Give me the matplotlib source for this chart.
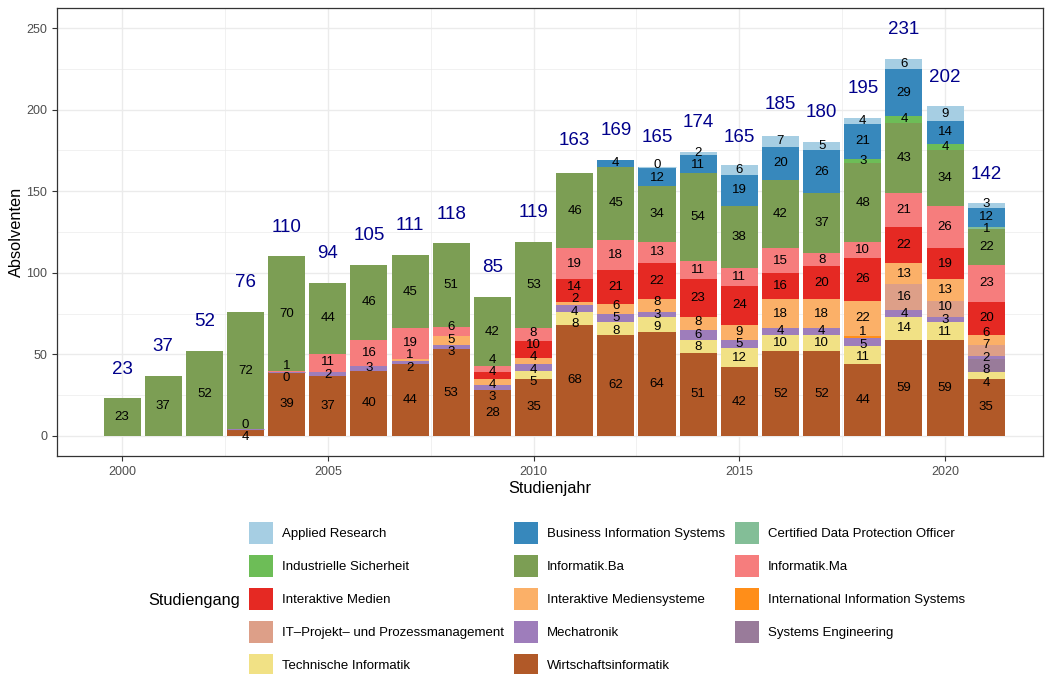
import numpy as np
import matplotlib
matplotlib.use("Agg")
import matplotlib.pyplot as plt
from matplotlib.colors import LinearSegmentedColormap
from matplotlib.patches import Patch

plt.rcParams['font.family'] = ['Liberation Sans', 'DejaVu Sans']

nan = np.nan
years = np.arange(2000, 2022)

studiengaenge = [
    "Applied Research", "Business Information Systems",
    "Certified Data Protection Officer", "Industrielle Sicherheit",
    "Informatik.Ba", "Informatik.Ma", "Interaktive Medien",
    "Interaktive Mediensysteme", "International Information Systems",
    "IT–Projekt– und Prozessmanagement", "Mechatronik",
    "Systems Engineering", "Technische Informatik", "Wirtschaftsinformatik",
]

# Absolventen je Studienjahr 2000..2021 (nan = keine Zeile im Datensatz)
applied_research = [nan] * 13 + [0, 2, 6, 7, 5, 4, 6, 9, 3]
business_is = [nan] * 12 + [4, 12, 11, 19, 20, 26, 21, 29, 14, 12]
cert_dpo = [nan] * 21 + [1]
industrielle_sicherheit = [nan] * 18 + [3, 4, 4, nan]
informatik_ba = [23, 37, 52, 72, 70, 44, 46, 45, 51, 42, 53,
                 46, 45, 34, 54, 38, 42, 37, 48, 43, 34, 22]
informatik_ma = [nan] * 4 + [1, 11, 16, 19, 6, 4, 8, 19, 18, 13, 11, 11,
                             15, 8, 10, 21, 26, 23]
interaktive_medien = [nan] * 9 + [4, 10, 14, 21, 22, 23, 24, 16, 20, 26,
                                  22, 19, 20]
interaktive_mediensysteme = [nan] * 7 + [1, 5, 4, 4, 2, 6, 8, 8, 9, 18, 18,
                                         22, 13, 13, 6]
international_is = [nan] * 18 + [1, nan, nan, nan]
it_projekt = [nan] * 19 + [16, 10, 7]
mechatronik = [nan] * 3 + [0, 0, 2, 3, 2, 3, 3, 4, 4, 5, 3, 6, 5, 4, 4,
                           5, 4, 3, 2]
systems_engineering = [nan] * 21 + [8]
technische_informatik = [nan] * 10 + [5, 8, 8, 9, 8, 12, 10, 10, 11, 14, 11, 4]
wirtschaftsinformatik = [nan] * 3 + [4, 39, 37, 40, 44, 53, 28, 35, 68, 62,
                                     64, 51, 42, 52, 52, 44, 59, 59, 35]

totals = [23, 37, 52, 76, 110, 94, 105, 111, 118, 85, 119,
          163, 169, 165, 174, 165, 185, 180, 195, 231, 202, 142]

series = [applied_research, business_is, cert_dpo, industrielle_sicherheit,
          informatik_ba, informatik_ma, interaktive_medien,
          interaktive_mediensysteme, international_is, it_projekt,
          mechatronik, systems_engineering, technische_informatik,
          wirtschaftsinformatik]

# colorRampPalette(brewer.pal(12, "Paired"))(14)
ramp = LinearSegmentedColormap.from_list("paired14", plt.get_cmap("Paired").colors)
colors = [ramp(t) for t in np.linspace(0, 1, len(studiengaenge))]


def spread(pos, gap, n_iter=300):
    # very small stand-in for ggrepel: push neighbouring labels apart
    pos = list(pos)
    for _ in range(n_iter):
        moved = False
        for i in range(len(pos) - 1):
            d = pos[i + 1] - pos[i]
            if d < gap:
                shift = (gap - d) / 2
                pos[i] -= shift
                pos[i + 1] += shift
                moved = True
        if not moved:
            break
    return pos


fig = plt.figure(figsize=(10.45, 6.74), dpi=100)
ax = fig.add_axes([57 / 1045, 1 - 456 / 674, (1043 - 57) / 1045, (456 - 8) / 674])

bottom = np.zeros(len(years))
labels = {y: [] for y in years}
# ggplot stacks the first factor level on top -> draw from the last one
for name, vals, col in reversed(list(zip(studiengaenge, series, colors))):
    v = np.array(vals, dtype=float)
    m = ~np.isnan(v)
    ax.bar(years[m], v[m], bottom=bottom[m], width=0.9, color=col, linewidth=0)
    z = m & (v == 0)
    if z.any():
        ax.bar(years[z], v[z], bottom=bottom[z], width=0.9, color=col,
               edgecolor=col, linewidth=0.8)
    for i in np.where(m)[0]:
        labels[years[i]].append((bottom[i] + v[i] / 2, int(v[i])))
    bottom[m] += v[m]

for y in years:
    pos = spread([p for p, _ in labels[y]], 7.6)
    for p, (_, n) in zip(pos, labels[y]):
        ax.text(y, p, str(n), ha='center', va='center', fontsize=9.5, color='black')

for y, t in zip(years, totals):
    ax.text(y, t + 18, str(t), ha='center', va='center', fontsize=13.5,
            color='darkblue')

ax.set_xlim(1998.42, 2022.38)
ax.set_ylim(-12.3, 262.3)
ax.set_xticks(range(2000, 2021, 5))
ax.set_xticks(np.arange(2002.5, 2022, 5), minor=True)
ax.set_yticks(range(0, 251, 50))
ax.set_yticks(range(25, 260, 50), minor=True)
ax.grid(which='major', color='#EBEBEB', linewidth=1.0)
ax.grid(which='minor', color='#EBEBEB', linewidth=0.5)
ax.set_axisbelow(True)
ax.tick_params(which='major', length=3.5, color='#333333', labelsize=9,
               labelcolor='#4D4D4D', width=0.8)
ax.tick_params(which='minor', length=0)
for s in ax.spines.values():
    s.set_color('#333333')
    s.set_linewidth(0.9)
ax.set_xlabel('Studienjahr', fontsize=11.8, labelpad=2)
ax.set_ylabel('Absolventen', fontsize=11.8, labelpad=2)

# legend filled row by row like ggplot (byrow), matplotlib fills by column
ncol, nrow = 3, 5
order = [r * ncol + c for c in range(ncol) for r in range(nrow)
         if r * ncol + c < len(studiengaenge)]
handles = [Patch(facecolor=colors[i], edgecolor='none') for i in order]
names = [studiengaenge[i] for i in order]
fig.legend(handles, names, ncol=ncol, frameon=False, fontsize=9.5,
           loc='center left', bbox_to_anchor=(249 / 1045, 1 - 599 / 674),
           handlelength=1.85, handleheight=2.25, labelspacing=0.8,
           columnspacing=0.75, handletextpad=0.65, borderpad=0, borderaxespad=0)
fig.text(148 / 1045, 1 - 600 / 674, 'Studiengang', fontsize=11.8, va='center',
         ha='left')

fig.savefig('out.png', dpi=100)
